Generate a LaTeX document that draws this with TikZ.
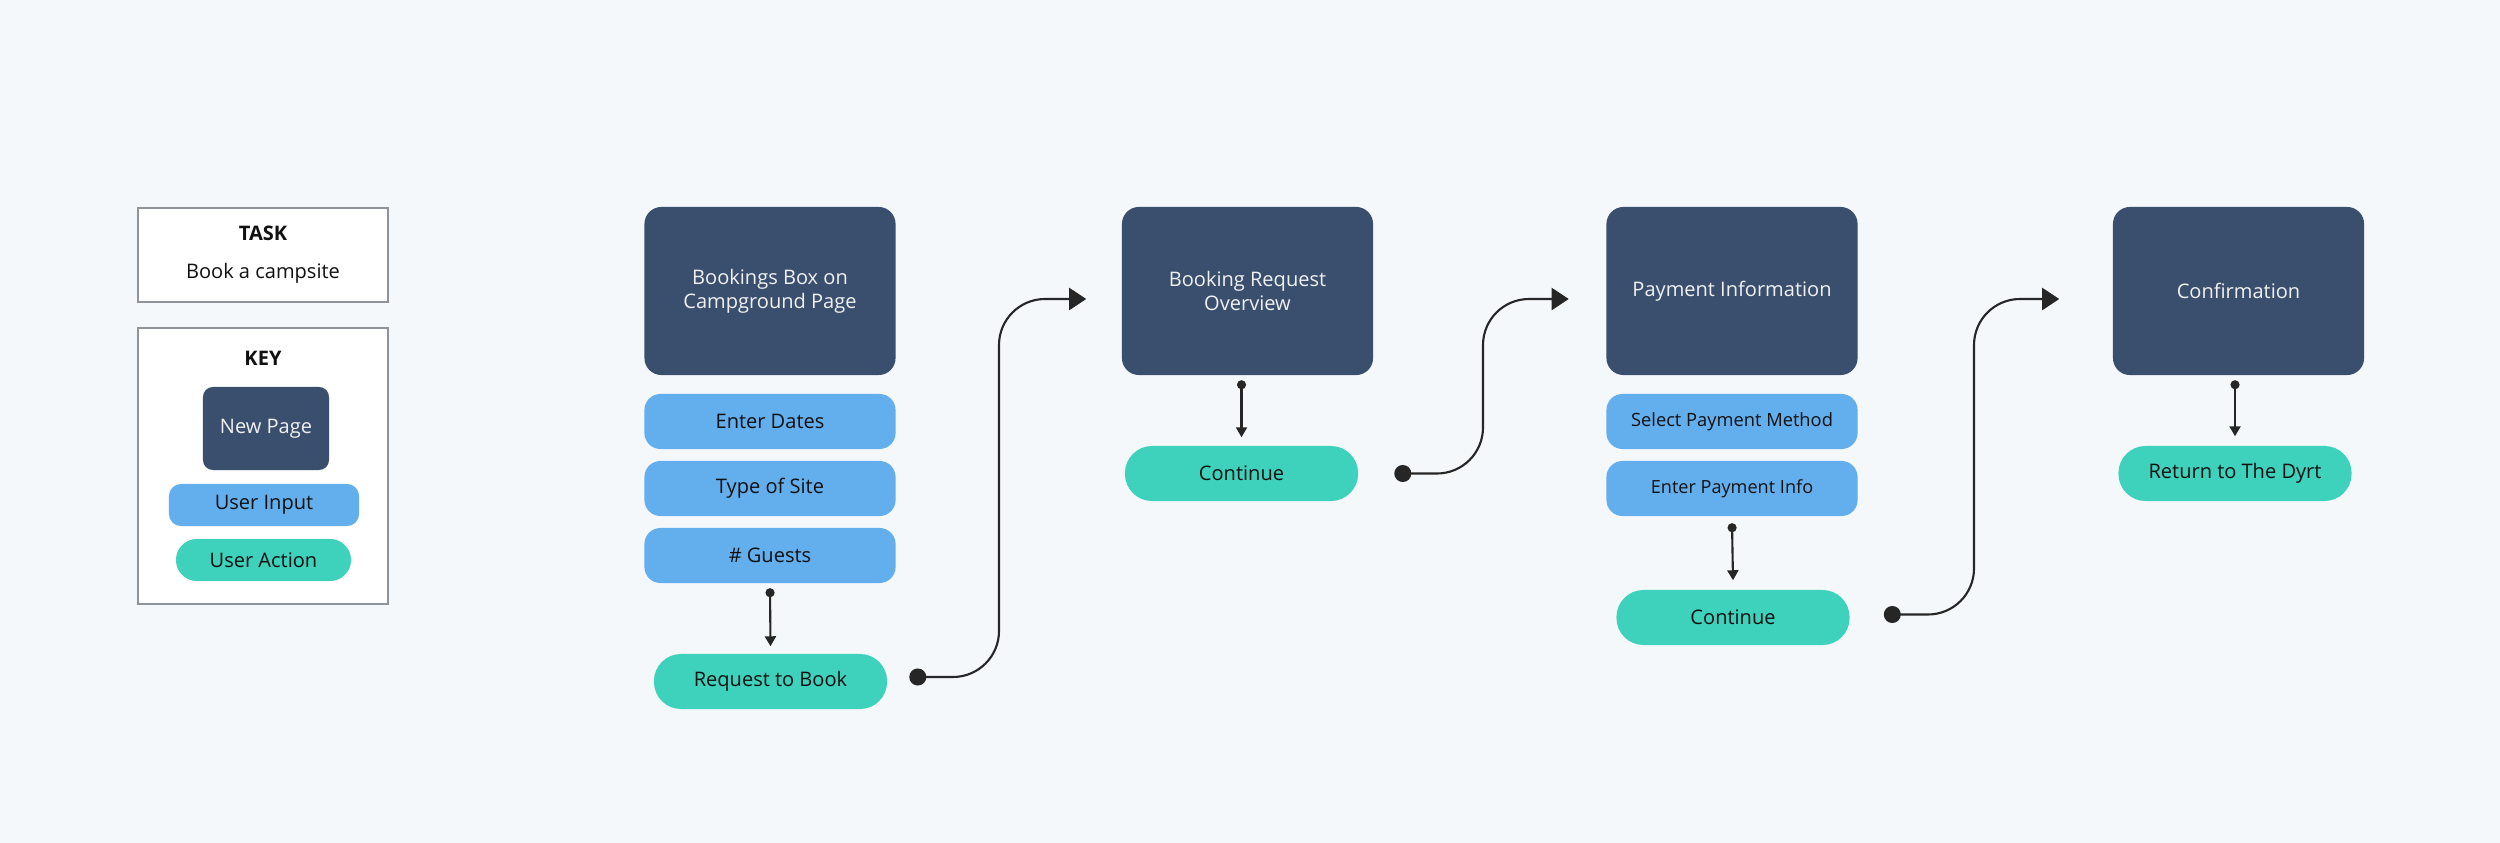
\documentclass[tikz,border=0pt]{standalone}
\usepackage{fontspec}
\setmainfont{Open Sans}
\usetikzlibrary{arrows.meta}
\definecolor{bgcol}{HTML}{F4F8FB}
\definecolor{pagecol}{HTML}{3A4F6E}
\definecolor{inputcol}{HTML}{63AEEC}
\definecolor{actioncol}{HTML}{3ED1BB}
\definecolor{framecol}{HTML}{8E949A}
\definecolor{inkcol}{HTML}{111111}
\begin{document}
\begin{tikzpicture}[x=0.01cm,y=-0.01cm,line cap=butt,line join=miter,
		txt/.style={font={\fontsize{5.7pt}{6.9pt}\selectfont},text=inkcol,align=center,inner sep=0pt},
		page/.style={txt,fill=pagecol,text=white!94!black,rounded corners=1.7mm,minimum width=2.51cm,minimum height=1.68cm},
		input/.style={txt,fill=inputcol,rounded corners=1.6mm,minimum width=2.51cm,minimum height=0.55cm},
		action/.style={txt,fill=actioncol,rounded corners=2.7mm,minimum width=2.33cm,minimum height=0.55cm},
		panel/.style={draw=framecol,fill=white,line width=0.6pt,minimum width=2.5cm},
		flow/.style={draw=black!85,line width=0.6pt,rounded corners=4.6mm,{Circle[length=1.7mm]}-{Triangle[length=1.7mm,width=2.2mm]}},
		downlink/.style={draw=black!85,line width=0.6pt,{Circle[length=0.9mm]}-{Triangle[length=1mm,width=1.1mm]}}
	]
	\fill[bgcol] (0,0) rectangle (2500,843);
	\node[panel,minimum height=0.94cm] (task) at (263,255) {};
	\node[txt,font={\fontsize{5.7pt}{6.9pt}\selectfont\bfseries}] (tasktitle) at (263,233) {TASK};
	\node[txt] (tasktext) at (263,273) {Book a campsite};
	\node[panel,minimum height=2.76cm] (key) at (263,466) {};
	\node[txt,font={\fontsize{5.7pt}{6.9pt}\selectfont\bfseries}] (keytitle) at (263,358) {KEY};
	\node[page,minimum width=1.26cm,minimum height=0.83cm,rounded corners=1mm] (kpage) at (266,428.5) {New Page};
	\node[input,minimum width=1.9cm,minimum height=0.42cm,rounded corners=1.2mm] (kinput) at (264,505) {User Input};
	\node[action,minimum width=1.75cm,minimum height=0.42cm,rounded corners=2.1mm] (kaction) at (263.5,560) {User Action};

	\node[page] (bbox) at (770,291) {Bookings Box on\\Campground Page};
	\node[input] (dates) at (770,421.5) {Enter Dates};
	\node[input] (site) at (770,488.5) {Type of Site};
	\node[input] (guests) at (770,555.5) {\# Guests};
	\node[action] (req) at (770.5,681.5) {Request to Book};
	\node[page] (bro) at (1247.5,291) {Booking Request\\Overview};
	\node[action] (cont1) at (1241.5,473.5) {Continue};
	\node[page] (pay) at (1732,291) {Payment Information};
	\node[input,font={\fontsize{5.2pt}{6.2pt}\selectfont}] (method) at (1732,421.5) {Select Payment Method};
	\node[input,font={\fontsize{5.15pt}{6.2pt}\selectfont}] (payinfo) at (1732,488.5) {Enter Payment Info};
	\node[action] (cont2) at (1733,617.5) {Continue};
	\node[page] (conf) at (2238.5,291) {Confirmation};
	\node[action] (dyrt) at (2235,473.5) {Return to The Dyrt};

	\coordinate (bend1) at (999,299);
	\coordinate (bend2) at (1483,299);
	\coordinate (bend3) at (1974,299);
	\draw[flow] ([xshift=2.15mm,yshift=0.45mm]req.east) -| (bend1) -- ([xshift=-3.5mm,yshift=-0.8mm]bro.west);
	\draw[flow] ([xshift=3.55mm]cont1.east) -| (bend2) -- ([xshift=-3.7mm,yshift=-0.8mm]pay.west);
	\draw[flow] ([xshift=3.35mm,yshift=0.3mm]cont2.east) -| (bend3) -- ([xshift=-5.3mm,yshift=-0.8mm]conf.west);
	\draw[downlink] ([yshift=-0.45mm]guests.south) -- ([yshift=0.7mm]req.north);
	\draw[downlink] ([yshift=-0.45mm]bro.south -| cont1.north) -- ([yshift=0.8mm]cont1.north);
	\draw[downlink] ([yshift=-0.65mm]payinfo.south) -- ([yshift=0.9mm]cont2.north);
	\draw[downlink] ([yshift=-0.45mm]conf.south -| dyrt.north) -- ([yshift=0.9mm]dyrt.north);
\end{tikzpicture}
\end{document}
